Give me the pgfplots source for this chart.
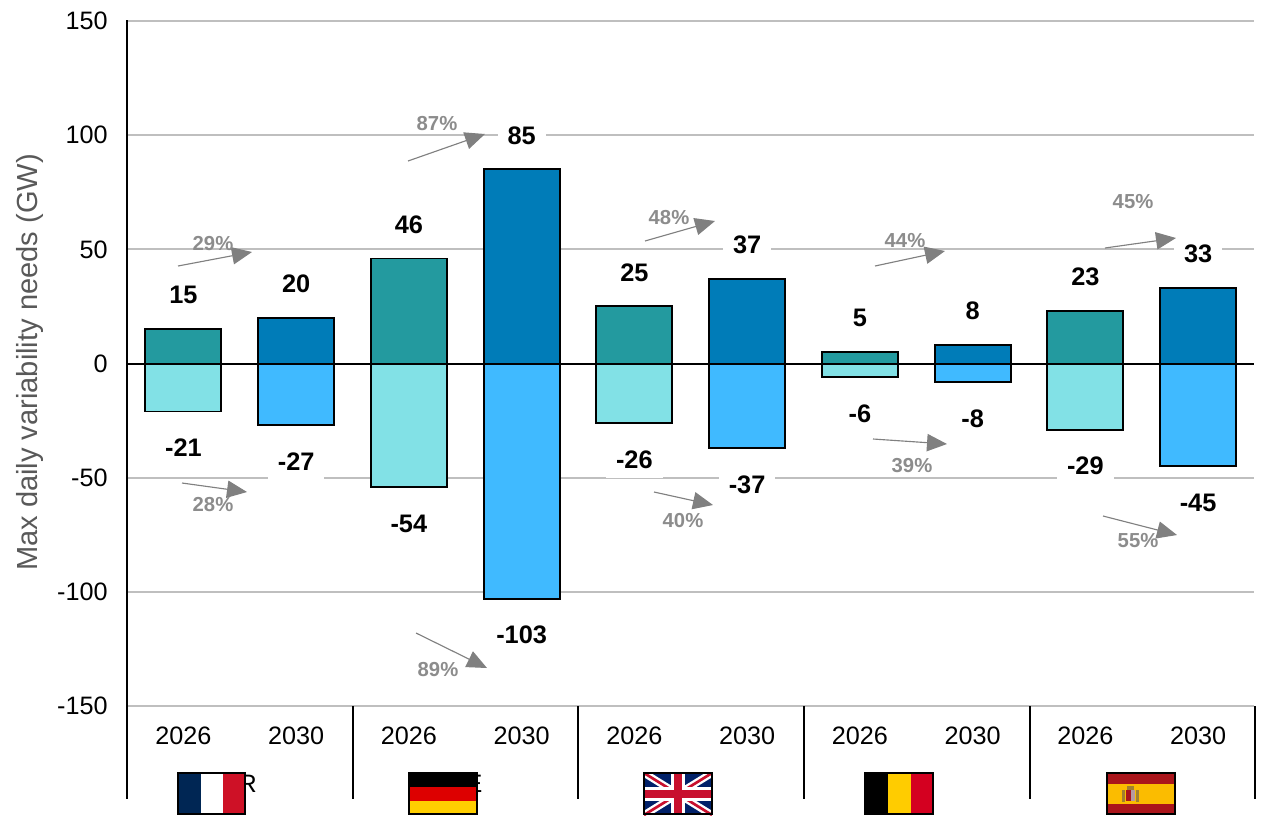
\documentclass[border=0pt]{standalone}
\usepackage{pgfplots}
\pgfplotsset{compat=1.18}
\usepackage{fontspec}
\setmainfont{Liberation Sans}
\usetikzlibrary{arrows.meta}
\definecolor{teal26}{HTML}{239A9F}
\definecolor{blue30}{HTML}{007CB8}
\definecolor{cyan26}{HTML}{82E1E6}
\definecolor{sky30}{HTML}{40BAFF}
\definecolor{gridgray}{HTML}{BFBFBF}
\definecolor{arrowgray}{HTML}{808080}
\definecolor{pctgray}{HTML}{8C8C8C}
\definecolor{frblue}{HTML}{002654}
\definecolor{frred}{HTML}{CE1126}
\definecolor{dered}{HTML}{DD0000}
\definecolor{degold}{HTML}{FFCE00}
\definecolor{ukblue}{HTML}{012169}
\definecolor{ukred}{HTML}{C8102E}
\definecolor{begold}{HTML}{FFCC00}
\definecolor{bered}{HTML}{D40020}
\definecolor{esred}{HTML}{AA151B}
\definecolor{esgold}{HTML}{FBBC00}
\definecolor{escrest}{HTML}{A08030}
\definecolor{esshield}{HTML}{B59AA0}
\newcommand{\tickfont}{\fontsize{18.9}{22}\selectfont}
\newcommand{\valfont}{\fontsize{19}{22}\selectfont\bfseries}
\newcommand{\pctfont}{\fontsize{15.2}{18}\selectfont\bfseries}
\tikzset{
  growth/.style={draw=arrowgray, line width=0.85pt, -{Triangle[length=15pt,width=13pt,fill=arrowgray]}},
  pct/.style={text=pctgray, font=\pctfont, inner sep=0pt},
  flagbox/.style={draw=black, line width=1.6pt}
}
\pgfplotsset{
  valuebar/.style={draw=black, line width=1.4pt, fill=#1, bar width=57pt, bar shift=0pt},
  above label/.style={point meta=explicit symbolic, nodes near coords,
    every node near coord/.append style={anchor=center, yshift=25.8pt}},
  below label/.style={point meta=explicit symbolic, nodes near coords,
    every node near coord/.append style={anchor=center, yshift=-27.2pt}}
}
\begin{document}
\begin{tikzpicture}[x=0.75pt,y=-0.75pt]
\path[use as bounding box] (0,0) rectangle (1263,815);
\coordinate (origin) at (127,706);
\begin{axis}[
  at={(origin)}, anchor=south west,
  scale only axis, width=845.6pt, height=513.75pt,
  xmin=-0.5, xmax=9.5, ymin=-150, ymax=150,
  ybar, clip=false,
  axis line style={draw=none},
  major tick length=0pt,
  ymajorgrids, grid style={draw=gridgray, line width=1.5pt},
  ytick={-150,-100,-50,0,50,100,150},
  yticklabels={-150,-100,-50,0,50,100,150},
  yticklabel style={font=\tickfont, text=black, anchor=east, xshift=-11pt},
  xtick={0,1,2,3,4,5,6,7,8,9},
  xticklabels={2026,2030,2026,2030,2026,2030,2026,2030,2026,2030},
  xticklabel style={font=\tickfont, text=black, anchor=center, yshift=-22.5pt},
  every node near coord/.append style={font=\valfont, text=black, fill=white,
    inner xsep=7.5pt, inner ysep=0pt, minimum height=29pt, text height=13.5pt, text depth=0pt},
]
% Ramp-up needs, 2026
\addplot[valuebar=teal26, above label] coordinates {(0,15) [15] (2,46) [46] (4,25) [25] (6,5) [5] (8,23) [23]};
% Ramp-up needs, 2030
\addplot[valuebar=blue30, above label] coordinates {(1,20) [20] (3,85) [85] (5,37) [37] (7,8) [8] (9,33) [33]};
% Ramp-down needs, 2026
\addplot[valuebar=cyan26, below label] coordinates {(0,-21) [-21] (2,-54) [-54] (4,-26) [-26] (6,-6) [-6] (8,-29) [-29]};
% Ramp-down needs, 2030
\addplot[valuebar=sky30, below label] coordinates {(1,-27) [-27] (3,-103) [-103] (5,-37) [-37] (7,-8) [-8] (9,-45) [-45]};
% Zero line
\draw[black, line width=1.5pt] (axis cs:-0.5,0) -- (axis cs:9.5,0);
\end{axis}
% Value axis and country separators
\draw[black, line width=1.5pt] (127,20) -- (127,799);
\foreach \x in {352.5,578,804,1029.5,1254.5}
  \draw[black, line width=1.5pt] (\x,706) -- (\x,799);
\node[rotate=90, text=black!65, font=\fontsize{21.8}{25}\selectfont] at (30,362.5) {Max daily variability needs (GW)};
% Growth arrows
\draw[growth] (178,266) -- (252,252);
\draw[growth] (182,483) -- (247,492);
\draw[growth] (408,161) -- (485,134);
\draw[growth] (416,633) -- (487,668);
\draw[growth] (645,241) -- (715,221);
\draw[growth] (654,492) -- (713,505);
\draw[growth] (875,266) -- (945,251);
\draw[growth] (873,439) -- (947,444);
\draw[growth] (1105,248) -- (1176,238);
\draw[growth] (1103,516) -- (1177,535);
\node[pct] at (213,244) {29\%};
\node[pct] at (213,505) {28\%};
\node[pct] at (437,124) {87\%};
\node[pct] at (438,670) {89\%};
\node[pct] at (669,218) {48\%};
\node[pct] at (683,521) {40\%};
\node[pct] at (905,241) {44\%};
\node[pct] at (912,466) {39\%};
\node[pct] at (1133,202) {45\%};
\node[pct] at (1138,541) {55\%};
% Country names, with the flags set over them
\foreach \x/\n in {240/FR,465/DE,691/UK,916/BE,1141/ES}
  \node[font=\tickfont, text=black, inner sep=0pt] at (\x,784) {\n};
% France
\fill[frblue] (178,773) rectangle (200.5,815);
\fill[white] (200.5,773) rectangle (223,815);
\fill[frred] (223,773) rectangle (245,815);
\draw[flagbox] (178,773) rectangle (245,814);
% Germany
\fill[black] (409,773) rectangle (477,787);
\fill[dered] (409,787) rectangle (477,801);
\fill[degold] (409,801) rectangle (477,815);
\draw[flagbox] (409,773) rectangle (477,814);
% United Kingdom
\begin{scope}
  \clip (644,773) rectangle (712,815);
  \fill[ukblue] (644,773) rectangle (712,815);
  \draw[white, line width=5.5pt] (644,773) -- (712,815) (644,815) -- (712,773);
  \draw[ukred, line width=2pt] (644,773) -- (712,815) (644,815) -- (712,773);
  \draw[white, line width=10.5pt] (678,773) -- (678,815) (644,794) -- (712,794);
  \draw[ukred, line width=6.5pt] (678,773) -- (678,815) (644,794) -- (712,794);
\end{scope}
\draw[flagbox] (644,773) rectangle (712,814);
% Belgium
\fill[black] (865,773) rectangle (888,815);
\fill[begold] (888,773) rectangle (910.5,815);
\fill[bered] (910.5,773) rectangle (933,815);
\draw[flagbox] (865,773) rectangle (933,814);
% Spain
\fill[esred] (1107,773) rectangle (1175,815);
\fill[esgold] (1107,784) rectangle (1175,804);
\fill[escrest] (1122,790) rectangle (1125,802);
\fill[escrest] (1136,790) rectangle (1139,802);
\fill[escrest] (1127,786) rectangle (1134,790);
\fill[esred] (1126,790) rectangle (1130.5,801);
\fill[esshield] (1130.5,790) rectangle (1135,801);
\draw[flagbox] (1107,773) rectangle (1175,814);
\end{tikzpicture}
\end{document}
